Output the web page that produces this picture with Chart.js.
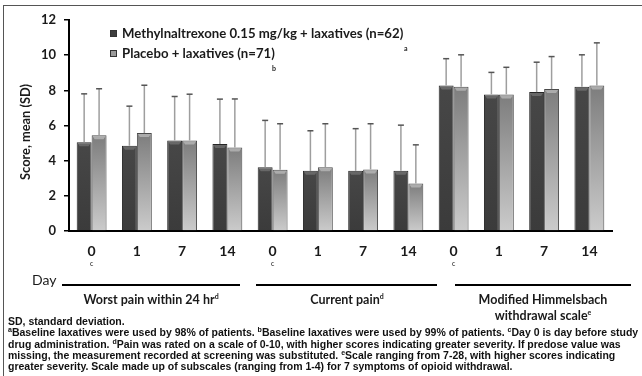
<!DOCTYPE html>
<html>
<head>
<meta charset="utf-8">
<script src="https://cdn.jsdelivr.net/npm/chart.js@4.4.1/dist/chart.umd.min.js"></script>
<style>
  body { margin: 0; width: 642px; height: 376px; overflow: hidden; background: #fff; position: relative; font-family: Lato, sans-serif; color: #1a1a1a; }
  #frame { position: absolute; left: 3px; top: 5px; width: 650px; height: 380px; border-top: 1.5px solid #555; border-left: 1.5px solid #555; }
  #wrap { position: absolute; left: 0; top: 0; width: 642px; height: 270px; }
  .leg { position: absolute; left: 110px; font-weight: bold; font-size: 13.2px; line-height: 18px; white-space: nowrap; }
  .sq { display: inline-block; width: 7px; height: 7px; margin-right: 5px; vertical-align: 1px; border: 0.5px solid #333; box-sizing: border-box; }
  .tiny { position: absolute; font-size: 7px; font-weight: bold; line-height: 8px; }
  #ytitle { position: absolute; left: -55px; top: 124px; width: 160px; height: 16px; line-height: 16px; text-align: center; font-weight: bold; font-size: 12.8px; transform: rotate(-90deg); }
  #day { position: absolute; left: 32px; top: 272px; font-size: 14px; line-height: 16px; }
  .gline { position: absolute; top: 284px; height: 2px; background: #000; }
  .glab { position: absolute; top: 292px; width: 220px; text-align: center; font-weight: bold; font-size: 12.5px; line-height: 16px; }
  .glab sup, #foot sup { font-size: 7px; line-height: 0; }
  #foot { position: absolute; left: 8px; top: 316px; font-family: "Liberation Sans", Arial, sans-serif; font-weight: bold; font-size: 10.5px; line-height: 11.3px; white-space: nowrap; color: #111; }
</style>
</head>
<body>
<div id="frame"></div>
<div id="wrap"><canvas id="myChart" width="642" height="270"></canvas></div>

<div class="leg" style="top:24px"><span class="sq" style="background:#3e3e3e"></span>Methylnaltrexone 0.15 mg/kg + laxatives (n=62)</div>
<div class="leg" style="top:44px"><span class="sq" style="background:#9a9a9a"></span>Placebo + laxatives (n=71)</div>
<div class="tiny" style="left:404px;top:44px">a</div>
<div class="tiny" style="left:272px;top:64px">b</div>

<div id="ytitle">Score, mean (SD)</div>
<div id="day">Day</div>
<div class="gline" style="left:62px;width:178px"></div>
<div class="gline" style="left:256px;width:181px"></div>
<div class="gline" style="left:455px;width:176px"></div>
<div class="glab" style="left:41px">Worst pain within 24 hr<sup>d</sup></div>
<div class="glab" style="left:237px">Current pain<sup>d</sup></div>
<div class="glab" style="left:433px">Modified Himmelsbach<br>withdrawal scale<sup>e</sup></div>

<div id="foot">SD, standard deviation.<br>
<sup>a</sup>Baseline laxatives were used by 98% of patients. <sup>b</sup>Baseline laxatives were used by 99% of patients. <sup>c</sup>Day 0 is day before study<br>
drug administration. <sup>d</sup>Pain was rated on a scale of 0-10, with higher scores indicating greater severity. If predose value was<br>
missing, the measurement recorded at screening was substituted. <sup>e</sup>Scale ranging from 7-28, with higher scores indicating<br>
greater severity. Scale made up of subscales (ranging from 1-4) for 7 symptoms of opioid withdrawal.</div>

<script>
// 데이터
const days = ['0', '1', '7', '14', '0', '1', '7', '14', '0', '1', '7', '14'];
const mntxMean = [5.05, 4.85, 5.15, 4.95, 3.62, 3.42, 3.42, 3.42, 8.27, 7.77, 7.9, 8.2];
const mntxSD = [2.75, 2.25, 2.5, 2.55, 2.67, 2.28, 2.4, 2.6, 1.53, 1.25, 1.7, 1.82];
const placeboMean = [5.44, 5.57, 5.15, 4.75, 3.48, 3.62, 3.5, 2.7, 8.2, 7.77, 8.07, 8.27];
const placeboSD = [2.65, 2.72, 2.63, 2.76, 2.62, 2.48, 2.6, 2.2, 1.82, 1.54, 1.85, 2.43];
const yTicks = [0, 2, 4, 6, 8, 10, 12];

Chart.defaults.font.family = 'Lato, sans-serif';
Chart.defaults.color = '#1a1a1a';

// 막대 그라데이션
function barFill(dark) {
    return function (ctx) {
        const chart = ctx.chart;
        const area = chart.chartArea;
        if (!area || ctx.raw === undefined) return dark ? '#3e3e3e' : '#a0a0a0';
        const top = chart.scales.y.getPixelForValue(ctx.raw);
        const g = chart.ctx.createLinearGradient(0, top, 0, area.bottom);
        if (dark) {
            g.addColorStop(0, '#474747');
            g.addColorStop(1, '#3b3b3b');
        } else {
            g.addColorStop(0, '#7d7d7d');
            g.addColorStop(1, '#cbcbcb');
        }
        return g;
    };
}

// 오차 막대 + 입체 효과
const errorBars = {
    id: 'errorBars',
    afterDatasetsDraw(chart) {
        const c = chart.ctx;
        const y = chart.scales.y;
        const sds = [mntxSD, placeboSD];
        chart.data.datasets.forEach((ds, di) => {
            const meta = chart.getDatasetMeta(di);
            meta.data.forEach((bar, i) => {
                const half = bar.width / 2;
                // 윗면 하이라이트
                c.save();
                c.fillStyle = di === 0 ? 'rgba(255,255,255,0.18)' : 'rgba(255,255,255,0.35)';
                c.beginPath();
                c.moveTo(bar.x - half + 1, bar.y + 1);
                c.lineTo(bar.x + half - 1, bar.y + 1);
                c.lineTo(bar.x + half - 3, bar.y + 4);
                c.lineTo(bar.x - half + 3, bar.y + 4);
                c.closePath();
                c.fill();
                c.restore();

                const topY = y.getPixelForValue(ds.data[i] + sds[di][i]);
                c.save();
                c.strokeStyle = '#9e9e9e';
                c.lineWidth = 1.5;
                c.beginPath();
                c.moveTo(bar.x, bar.y);
                c.lineTo(bar.x, topY);
                c.stroke();
                c.strokeStyle = '#555';
                c.lineWidth = 1.5;
                c.beginPath();
                c.moveTo(bar.x - 3, topY);
                c.lineTo(bar.x + 3, topY);
                c.stroke();
                c.restore();
            });
        });
    },
    afterDraw(chart) {
        // Day 0 아래의 각주 c
        const x = chart.scales.x;
        const c = chart.ctx;
        c.save();
        c.font = '7px Lato';
        c.fillStyle = '#1a1a1a';
        c.textAlign = 'center';
        c.textBaseline = 'middle';
        days.forEach((d, i) => {
            if (i % 4 === 0) c.fillText('c', x.getPixelForTick(i), 264);
        });
        c.restore();
    }
};

const ctx = document.getElementById('myChart').getContext('2d');
const myChart = new Chart(ctx, {
    type: 'bar',
    data: {
        labels: days,
        datasets: [{
            label: 'Methylnaltrexone 0.15 mg/kg + laxatives (n=62)',
            data: mntxMean,
            backgroundColor: barFill(true),
            borderColor: '#262626',
            borderWidth: 1,
            barPercentage: 1,
            categoryPercentage: 0.66
        }, {
            label: 'Placebo + laxatives (n=71)',
            data: placeboMean,
            backgroundColor: barFill(false),
            borderColor: '#4a4a4a',
            borderWidth: 1,
            barPercentage: 1,
            categoryPercentage: 0.66
        }]
    },
    options: {
        responsive: false,
        animation: false,
        layout: { padding: { top: 20, right: 30, left: 0, bottom: 0 } },
        plugins: {
            legend: { display: false },
            tooltip: { enabled: false }
        },
        scales: {
            x: {
                grid: { display: false, drawTicks: false },
                border: { display: true, color: '#000', width: 2 },
                ticks: { font: { size: 14, weight: 'bold' }, padding: 12, color: '#1a1a1a' },
                afterFit(scale) { scale.height = 39; }
            },
            y: {
                min: 0,
                max: 12,
                afterBuildTicks(scale) { scale.ticks = yTicks.map(v => ({ value: v })); },
                grid: { drawOnChartArea: false, drawTicks: true, tickLength: 5, color: '#000', lineWidth: 1.5 },
                border: { display: true, color: '#000', width: 2 },
                ticks: { font: { size: 13, weight: 'bold' }, padding: 8, color: '#1a1a1a' },
                afterFit(scale) { scale.width = 69; }
            }
        }
    },
    plugins: [errorBars]
});
</script>
</body>
</html>
